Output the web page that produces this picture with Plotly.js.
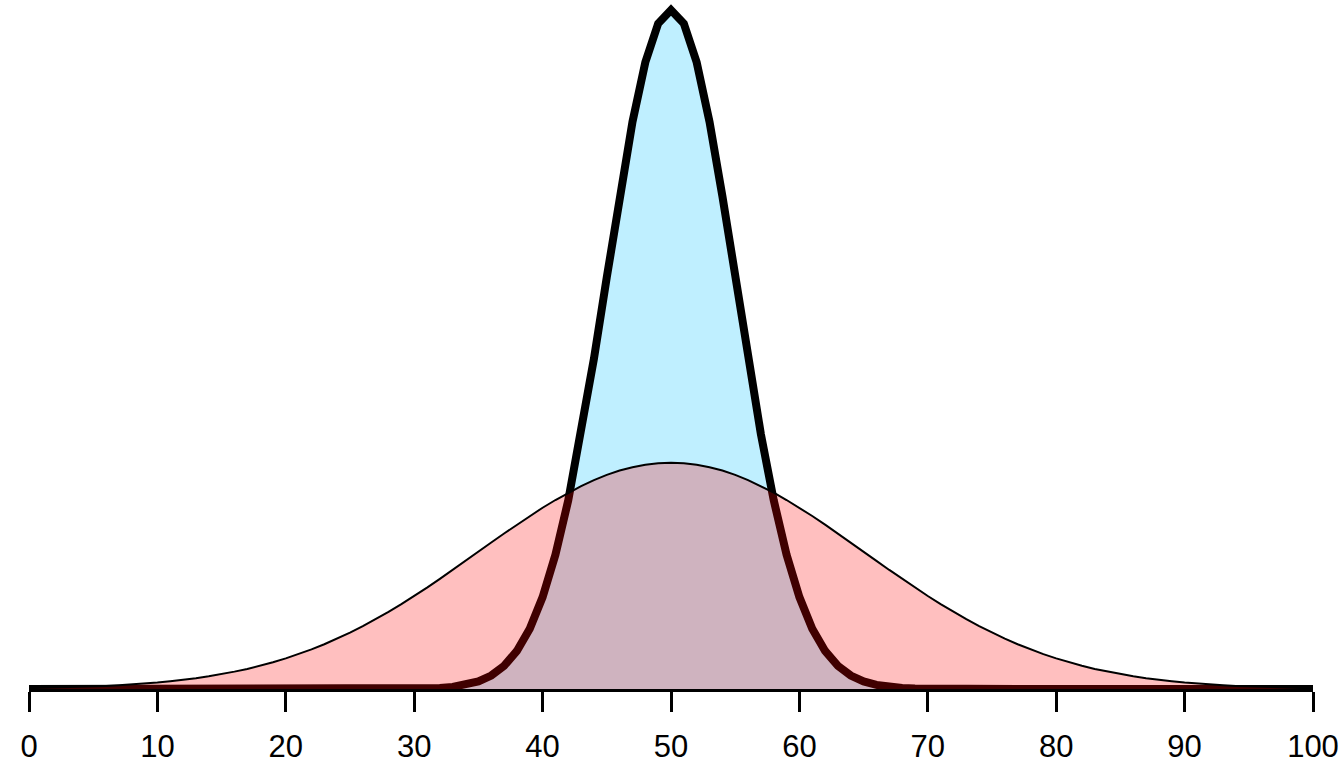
<!DOCTYPE html>
<html>
<head>
<meta charset="utf-8">
<script src="https://cdn.plot.ly/plotly-3.0.1.min.js"></script>
<style>
  html, body { margin: 0; padding: 0; background: #fff; }
  #chart { width: 1344px; height: 768px; }
</style>
</head>
<body>
<div id="chart"></div>
<script>
// x positions shared by both curves
var xVals = [0,1,2,3,4,5,6,7,8,9,10,11,12,13,14,15,16,17,18,19,20,
  21,22,23,24,25,26,27,28,29,30,31,32,33,34,35,36,37,38,39,40,
  41,42,43,44,45,46,47,48,49,50,51,52,53,54,55,56,57,58,59,60,
  61,62,63,64,65,66,67,68,69,70,71,72,73,74,75,76,77,78,79,80,
  81,82,83,84,85,86,87,88,89,90,91,92,93,94,95,96,97,98,99,100];

// narrow curve (thick outline, light blue)
var narrowY = [0,0,0,0,0,0,0,0,0,0,0,0,0,0,0,0,0,0,0,0,0,0,0,0,0,0,0,0,0,
  0.00001,0.00003,0.00006,0.00012,0.00025,0.00048,0.00089,0.00158,0.00272,0.00448,0.00709,
  0.01080,0.01579,0.02218,0.02995,0.03884,0.04839,0.05794,0.06665,0.07365,0.07821,
  0.07979,
  0.07821,0.07365,0.06665,0.05794,0.04839,0.03884,0.02995,0.02218,0.01579,0.01080,
  0.00709,0.00448,0.00272,0.00158,0.00089,0.00048,0.00025,0.00012,0.00006,0.00003,0.00001,
  0,0,0,0,0,0,0,0,0,0,0,0,0,0,0,0,0,0,0,0,0,0,0,0,0,0,0,0,0];

// wide curve (thin outline, translucent red)
var wideY = [0.00010,0.00013,0.00016,0.00020,0.00024,0.00030,0.00036,0.00044,0.00053,0.00063,
  0.00076,0.00091,0.00107,0.00127,0.00149,0.00175,0.00204,0.00236,0.00273,0.00314,
  0.00360,0.00410,0.00466,0.00526,0.00592,0.00663,0.00739,0.00821,0.00907,0.00998,
  0.01093,0.01192,0.01295,0.01399,0.01506,0.01613,0.01721,0.01827,0.01931,0.02033,
  0.02130,0.02221,0.02307,0.02385,0.02455,0.02516,0.02567,0.02607,0.02636,0.02654,
  0.02660,
  0.02654,0.02636,0.02607,0.02567,0.02516,0.02455,0.02385,0.02307,0.02221,0.02130,
  0.02033,0.01931,0.01827,0.01721,0.01613,0.01506,0.01399,0.01295,0.01192,0.01093,
  0.00998,0.00907,0.00821,0.00739,0.00663,0.00592,0.00526,0.00466,0.00410,0.00360,
  0.00314,0.00273,0.00236,0.00204,0.00175,0.00149,0.00127,0.00107,0.00091,0.00076,
  0.00063,0.00053,0.00044,0.00036,0.00030,0.00024,0.00020,0.00016,0.00013,0.00010];

var tickVals = [0,10,20,30,40,50,60,70,80,90,100];

var traces = [
  {
    x: xVals, y: narrowY,
    type: "scatter", mode: "lines",
    fill: "tozeroy", fillcolor: "#BFEFFF",
    line: { color: "black", width: 8 },
    hoverinfo: "skip"
  },
  {
    x: xVals, y: wideY,
    type: "scatter", mode: "lines",
    fill: "tozeroy", fillcolor: "rgba(255,0,0,0.25)",
    line: { color: "black", width: 2 },
    hoverinfo: "skip"
  }
];

var layout = {
  width: 1344, height: 768,
  margin: { l: 29, r: 31, t: 0, b: 79 },
  paper_bgcolor: "white", plot_bgcolor: "white",
  showlegend: false,
  font: { family: "Liberation Sans, Arial, sans-serif", color: "black" },
  xaxis: {
    range: [0, 100], tickvals: tickVals,
    showgrid: false, zeroline: false,
    showline: true, linecolor: "black", linewidth: 3,
    ticks: "outside", ticklen: 20, tickwidth: 3, tickcolor: "black",
    ticklabelstandoff: 8,
    tickfont: { size: 31, color: "black" }
  },
  yaxis: {
    range: [0, 0.08097], visible: false,
    showgrid: false, zeroline: false
  }
};

Plotly.newPlot("chart", traces, layout, { staticPlot: true });
</script>
</body>
</html>
